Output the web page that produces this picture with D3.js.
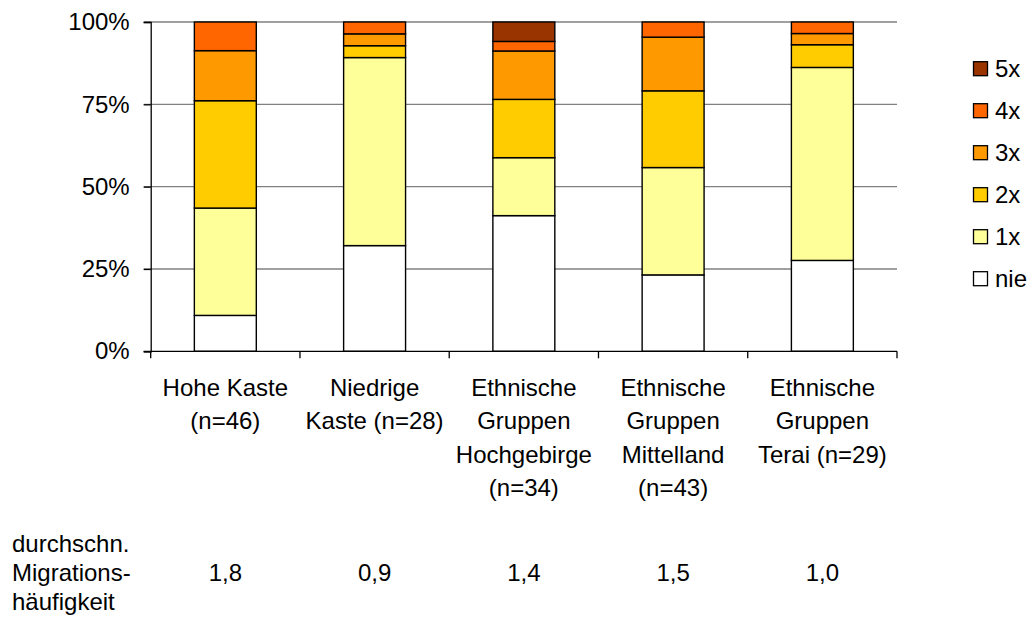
<!DOCTYPE html>
<html>
<head>
<meta charset="utf-8">
<script src="https://cdn.jsdelivr.net/npm/d3@7"></script>
<style>
  body { margin: 0; background: #fff; }
  svg { display: block; font-family: "Liberation Sans", Arial, sans-serif; }
</style>
</head>
<body>
<svg id="chart" width="1029" height="617"></svg>
<script>
// category labels, one entry per line
const categories = ["hk", "nk", "hg", "ml", "te"];
const categoryLines = [
  ["Hohe Kaste", "(n=46)"],
  ["Niedrige", "Kaste (n=28)"],
  ["Ethnische", "Gruppen", "Hochgebirge", "(n=34)"],
  ["Ethnische", "Gruppen", "Mittelland", "(n=43)"],
  ["Ethnische", "Gruppen", "Terai (n=29)"]
];

// shares in percent, bottom to top
const seriesNames = ["nie", "1x", "2x", "3x", "4x", "5x"];
const nie = [10.9, 32.1, 41.2, 23.2, 27.6];
const x1 = [32.6, 57.1, 17.6, 32.6, 58.6];
const x2 = [32.6, 3.6, 17.7, 23.3, 6.9];
const x3 = [15.2, 3.6, 14.7, 16.3, 3.4];
const x4 = [8.7, 3.6, 2.9, 4.6, 3.5];
const x5 = [0, 0, 5.9, 0, 0];
const seriesColors = ["#ffffff", "#ffff99", "#ffcc00", "#ff9900", "#ff6600", "#993300"];

const yTicks = [0, 25, 50, 75, 100];
const averages = ["1,8", "0,9", "1,4", "1,5", "1,0"];
const averageLabel = ["durchschn.", "Migrations-", "häufigkeit"];

const FS = 24;

function drawChart() {
  const svg = d3.select("#chart");
  const left = 150.7, right = 897, top = 22, bottom = 351.3;

  const rows = categories.map((c, i) => ({
    cat: c, nie: nie[i], "1x": x1[i], "2x": x2[i], "3x": x3[i], "4x": x4[i], "5x": x5[i]
  }));
  const stacked = d3.stack().keys(seriesNames)(rows);

  const x = d3.scaleBand().domain(categories).range([left, right])
    .paddingInner(0.585).paddingOuter(0.2925);
  const xb = d3.scaleBand().domain(categories).range([left, right]);
  const y = d3.scaleLinear().domain([0, 100]).range([bottom, top]);
  const color = d3.scaleOrdinal().domain(seriesNames).range(seriesColors);

  // grid lines
  svg.append("g")
    .selectAll("line")
    .data(yTicks.filter(t => t > 0))
    .join("line")
    .attr("x1", left - 7).attr("x2", right)
    .attr("y1", d => y(d)).attr("y2", d => y(d))
    .attr("stroke", "#808080").attr("stroke-width", 1.3);

  // y axis
  const yAxis = svg.append("g")
    .attr("transform", `translate(${left},0)`)
    .call(d3.axisLeft(y).tickValues(yTicks).tickFormat(d => d + "%").tickSize(7).tickPadding(14));
  yAxis.select(".domain").attr("stroke", "#000").attr("stroke-width", 1.3);
  yAxis.selectAll(".tick line").attr("stroke", "#000").attr("stroke-width", 1.3);
  yAxis.selectAll("text").attr("font-size", FS).attr("fill", "#000")
    .attr("font-family", "Liberation Sans, Arial, sans-serif");

  // bars
  svg.append("g")
    .selectAll("g")
    .data(stacked)
    .join("g")
    .attr("fill", d => color(d.key))
    .selectAll("rect")
    .data(d => d.filter(p => p[1] - p[0] > 0))
    .join("rect")
    .attr("x", d => x(d.data.cat))
    .attr("width", x.bandwidth())
    .attr("y", d => y(d[1]))
    .attr("height", d => y(d[0]) - y(d[1]))
    .attr("stroke", "#000")
    .attr("stroke-width", 1.4);

  // x axis
  svg.append("line")
    .attr("x1", left - 7).attr("x2", right)
    .attr("y1", bottom).attr("y2", bottom)
    .attr("stroke", "#000").attr("stroke-width", 1.3);
  const bounds = categories.map(c => xb(c)).concat([right]);
  svg.append("g")
    .selectAll("line")
    .data(bounds)
    .join("line")
    .attr("x1", d => d).attr("x2", d => d)
    .attr("y1", bottom).attr("y2", bottom + 7)
    .attr("stroke", "#000").attr("stroke-width", 1.3);

  // category labels
  const lab = svg.append("g");
  categories.forEach((c, i) => {
    const cx = xb(c) + xb.bandwidth() / 2;
    const t = lab.append("text")
      .attr("text-anchor", "middle")
      .attr("font-size", FS);
    categoryLines[i].forEach((line, j) => {
      t.append("tspan")
        .attr("x", cx)
        .attr("y", 395.5 + j * 33.5)
        .text(line);
    });
  });

  // average row
  const avg = svg.append("text").attr("font-size", FS);
  averageLabel.forEach((line, j) => {
    avg.append("tspan").attr("x", 12).attr("y", 552 + j * 29).text(line);
  });
  svg.append("g")
    .selectAll("text")
    .data(averages)
    .join("text")
    .attr("x", (d, i) => xb(categories[i]) + xb.bandwidth() / 2)
    .attr("y", 581)
    .attr("text-anchor", "middle")
    .attr("font-size", FS)
    .text(d => d);

  // legend, top item is 5x
  const legend = svg.append("g")
    .selectAll("g")
    .data(seriesNames.slice().reverse())
    .join("g")
    .attr("transform", (d, i) => `translate(973.5,${68.7 + i * 42})`);
  legend.append("rect")
    .attr("x", 0).attr("y", -7)
    .attr("width", 14).attr("height", 14)
    .attr("fill", d => color(d))
    .attr("stroke", "#000").attr("stroke-width", 1.3);
  legend.append("text")
    .attr("x", 21.5).attr("y", 8)
    .attr("font-size", FS)
    .text(d => d);
}

window.addEventListener("DOMContentLoaded", drawChart);
</script>
</body>
</html>
